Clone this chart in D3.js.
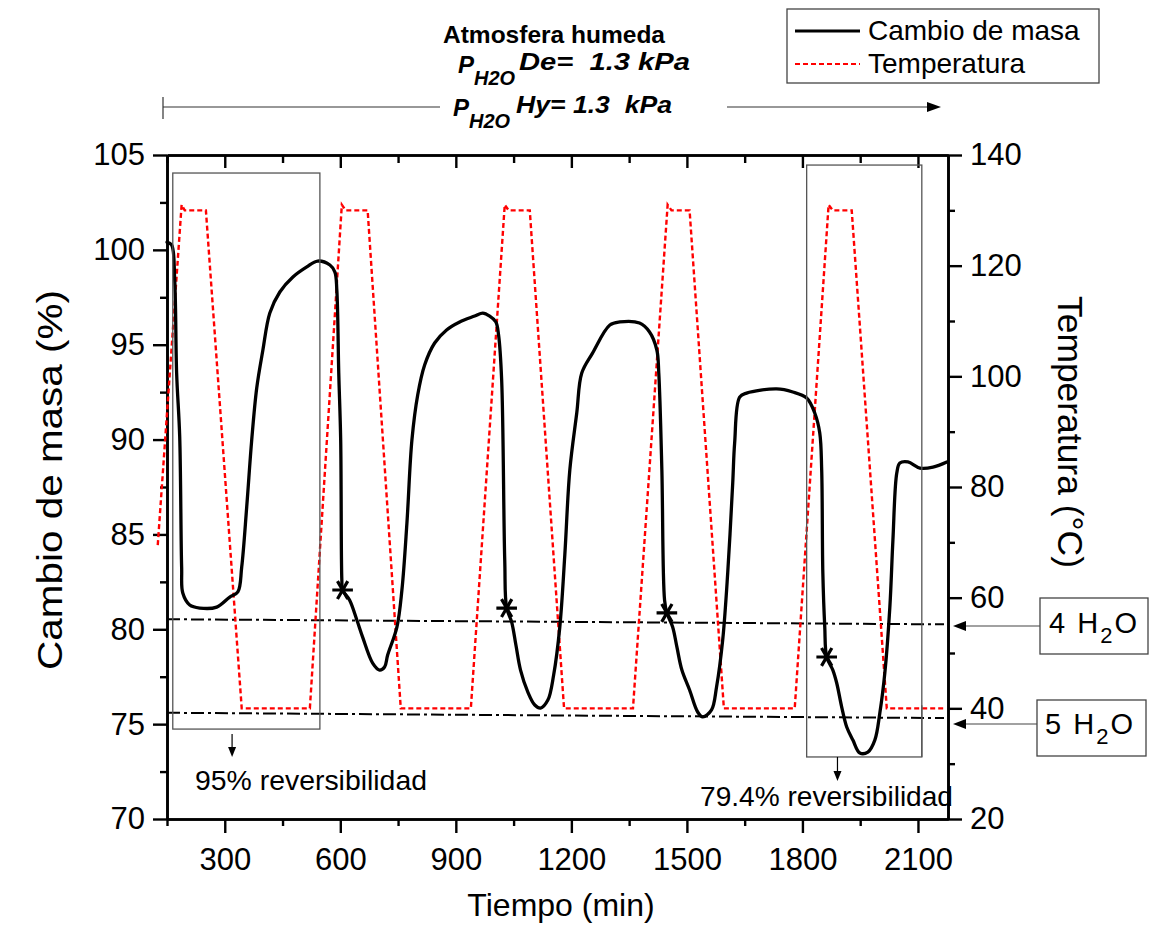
<!DOCTYPE html>
<html><head><meta charset="utf-8">
<script src="https://cdn.jsdelivr.net/npm/d3@7"></script>
<style>
body{margin:0;background:#fff}
svg{display:block}
text{font-family:"Liberation Sans",Arial,Helvetica,sans-serif;fill:#000}
</style>
</head><body>
<svg id="chart" width="1154" height="926"></svg>
<script>
// ---------------- data ----------------
const massTime = [150,162,170,175,183,188,191,209,235,279,313,334,344,357,370,383,399,417,443,477,513,541,573,586,591,596,601,604,606,624,643,658,684,702,715,723,747,760,773,786,801,819,845,876,910,949,970,988,1004,1011,1019,1027,1032,1045,1056,1068,1087,1105,1120,1139,1154,1170,1183,1196,1214,1227,1255,1300,1326,1377,1403,1422,1427,1435,1442,1448,1463,1474,1487,1507,1528,1541,1564,1577,1593,1606,1619,1624,1637,1655,1733,1775,1811,1832,1845,1850,1853,1858,1863,1879,1889,1902,1915,1931,1949,1970,1988,2001,2014,2027,2035,2045,2053,2074,2105,2139,2175];
const massValues = [100.41,100.26,98.41,93.51,90.14,83.28,81.91,81.28,81.12,81.17,81.70,81.97,83.28,86.45,89.98,92.72,94.72,96.67,97.78,98.57,99.10,99.41,99.20,98.83,97.88,93.51,89.98,82.60,82.07,81.54,80.49,79.59,78.22,77.85,78.01,78.64,80.12,82.07,85.60,89.98,92.35,93.93,95.09,95.78,96.20,96.51,96.67,96.51,96.20,95.51,93.14,83.65,81.12,80.38,79.17,77.85,76.69,76.01,75.85,76.27,77.59,80.12,83.92,88.40,91.40,93.51,94.56,96.04,96.20,96.14,95.67,94.72,93.51,88.40,81.54,80.86,80.12,79.07,77.85,76.80,75.64,75.38,75.75,76.96,79.44,82.97,87.71,89.82,92.24,92.45,92.67,92.51,92.19,91.40,90.35,88.40,82.97,80.12,78.54,77.85,77.17,75.90,74.85,74.16,73.48,73.53,74.16,75.59,77.70,81.17,84.71,88.24,88.76,88.82,88.50,88.55,88.82];

const markerTime = [606,1032,1448,1863];
const markerValues = [82.07,81.12,80.86,78.54];

const tempTime = [126,188,196,251,344,521,604,614,671,757,939,1027,1037,1092,1181,1360,1450,1460,1507,1596,1780,1868,1879,1928,2019,2170];
const tempValues = [69.5,131,130,130,40,40,131,130,130,40,40,131,130,130,40,40,131,130,130,40,40,131,130,130,40,40];

const xTicks = [300,600,900,1200,1500,1800,2100];
const xMinorTicks = [150,450,750,1050,1350,1650,1950];
const massTicks = [70,75,80,85,90,95,100,105];
const massMinorTicks = [72.5,77.5,82.5,87.5,92.5,97.5,102.5];
const tempTicks = [20,40,60,80,100,120,140];
const tempMinorTicks = [30,50,70,90,110,130];

// hydrate reference lines (time, mass) endpoints
const hydrateNames = ["4", "5"];
const hydrateStart = [80.53, 75.60];
const hydrateEnd = [80.26, 75.32];
const hydrateSpan = [150, 2178];

// reversibility boxes
const boxTimes = [[165, 547], [1811, 2110]];
const boxMass = [[104.05, 74.74], [104.47, 73.27]];
const boxLabels = ["95% reversibilidad", "79.4% reversibilidad"];

// ---------------- chart ----------------
const svg = d3.select("#chart");
const x = d3.scaleLinear().domain([150, 2178]).range([167, 948]);
const yM = d3.scaleLinear().domain([70, 105]).range([819, 155]);
const yT = d3.scaleLinear().domain([20, 140]).range([819, 155]);
const fmt = d3.format("d");

function styleAxis(g, fs) {
  g.attr("font-family", '"Liberation Sans",Arial,sans-serif').attr("font-size", fs);
  g.selectAll("path.domain").attr("stroke", "#000").attr("stroke-width", 2.6);
  g.selectAll(".tick line").attr("stroke", "#000").attr("stroke-width", 2.4);
  g.selectAll(".tick text").attr("fill", "#000");
}

// bottom
svg.append("g").attr("transform", "translate(0,819)")
  .call(d3.axisBottom(x).tickValues(xMinorTicks).tickSize(7).tickSizeOuter(0).tickFormat(""))
  .call(g => styleAxis(g, 31));
svg.append("g").attr("transform", "translate(0,819)")
  .call(d3.axisBottom(x).tickValues(xTicks).tickSize(14).tickSizeOuter(0).tickPadding(15).tickFormat(fmt))
  .call(g => styleAxis(g, 31));
// top (ticks inward)
svg.append("g").attr("transform", "translate(0,155)")
  .call(d3.axisBottom(x).tickValues(xMinorTicks).tickSize(8).tickSizeOuter(0).tickFormat(""))
  .call(g => styleAxis(g, 31));
svg.append("g").attr("transform", "translate(0,155)")
  .call(d3.axisBottom(x).tickValues(xTicks).tickSize(13).tickSizeOuter(0).tickFormat(""))
  .call(g => styleAxis(g, 31));
// left
svg.append("g").attr("transform", "translate(167,0)")
  .call(d3.axisLeft(yM).tickValues(massMinorTicks).tickSize(7).tickSizeOuter(0).tickFormat(""))
  .call(g => styleAxis(g, 31));
svg.append("g").attr("transform", "translate(167,0)")
  .call(d3.axisLeft(yM).tickValues(massTicks).tickSize(14).tickSizeOuter(0).tickPadding(8).tickFormat(fmt))
  .call(g => styleAxis(g, 31));
// right
svg.append("g").attr("transform", "translate(948,0)")
  .call(d3.axisRight(yT).tickValues(tempMinorTicks).tickSize(7).tickSizeOuter(0).tickFormat(""))
  .call(g => styleAxis(g, 31));
svg.append("g").attr("transform", "translate(948,0)")
  .call(d3.axisRight(yT).tickValues(tempTicks).tickSize(14).tickSizeOuter(0).tickPadding(8).tickFormat(fmt))
  .call(g => styleAxis(g, 31));

// axis titles
svg.append("text").attr("x", 561).attr("y", 916).attr("text-anchor", "middle")
  .attr("font-size", 32).text("Tiempo (min)");
svg.append("text").attr("transform", "translate(62,480) rotate(-90)").attr("text-anchor", "middle")
  .attr("font-size", 35).attr("textLength", 380).attr("lengthAdjust", "spacingAndGlyphs")
  .text("Cambio de masa (%)");
svg.append("text").attr("transform", "translate(1058,432) rotate(90)").attr("text-anchor", "middle")
  .attr("font-size", 35).attr("textLength", 272).attr("lengthAdjust", "spacingAndGlyphs")
  .text("Temperatura (°C)");

// hydrate dash-dot lines
hydrateNames.forEach((n, i) => {
  svg.append("line")
    .attr("x1", x(hydrateSpan[0])).attr("y1", yM(hydrateStart[i]))
    .attr("x2", x(hydrateSpan[1]) - 4).attr("y2", yM(hydrateEnd[i]))
    .attr("stroke", "#000").attr("stroke-width", 2).attr("stroke-dasharray", "13,4,3,4");
});

// temperature
const tempData = tempTime.map((t, i) => [t, tempValues[i]]);
svg.append("path").datum(tempData)
  .attr("fill", "none").attr("stroke", "#ff0000").attr("stroke-width", 2.4)
  .attr("stroke-dasharray", "5,3")
  .attr("d", d3.line().x(d => x(d[0])).y(d => yT(d[1])));

// mass
const massData = massTime.map((t, i) => [t, massValues[i]]);
svg.append("path").datum(massData)
  .attr("fill", "none").attr("stroke", "#000").attr("stroke-width", 3.3)
  .attr("stroke-linejoin", "round").attr("stroke-linecap", "round")
  .attr("d", d3.line().curve(d3.curveCatmullRom.alpha(0.5)).x(d => x(d[0])).y(d => yM(d[1])));

// star markers
const star = d3.symbol(d3.symbolAsterisk, 300);
markerTime.forEach((t, i) => {
  svg.append("path").attr("d", star())
    .attr("transform", `translate(${x(t)},${yM(markerValues[i])}) rotate(90)`)
    .attr("fill", "none").attr("stroke", "#000").attr("stroke-width", 3.2);
});

// reversibility boxes
boxTimes.forEach((bt, i) => {
  const x0 = x(bt[0]), x1 = x(bt[1]), y0 = yM(boxMass[i][0]), y1 = yM(boxMass[i][1]);
  svg.append("rect").attr("x", x0).attr("y", y0).attr("width", x1 - x0).attr("height", y1 - y0)
    .attr("fill", "none").attr("stroke", "#555").attr("stroke-width", 1.3);
});
function downArrow(cx, ya, yb) {
  svg.append("line").attr("x1", cx).attr("y1", ya).attr("x2", cx).attr("y2", yb - 8)
    .attr("stroke", "#000").attr("stroke-width", 1.2);
  svg.append("path").attr("d", `M${cx - 4},${yb - 10}L${cx + 4},${yb - 10}L${cx},${yb}Z`).attr("fill", "#000");
}
downArrow(x(319), yM(boxMass[0][1]) + 5, yM(boxMass[0][1]) + 28);
downArrow(x(1891), yM(boxMass[1][1]), yM(boxMass[1][1]) + 24);
svg.append("text").attr("x", 195).attr("y", 790).attr("font-size", 28)
  .attr("textLength", 232).attr("lengthAdjust", "spacingAndGlyphs").text(boxLabels[0]);
svg.append("text").attr("x", 700).attr("y", 806).attr("font-size", 28)
  .attr("textLength", 253).attr("lengthAdjust", "spacingAndGlyphs").text(boxLabels[1]);
svg.append("line").attr("x1", x(2110)).attr("x2", x(2110)).attr("y1", yM(76)).attr("y2", yM(73.27))
  .attr("stroke", "#555").attr("stroke-width", 1.3);

// hydrate label boxes with arrows
const hydBoxes = [{x: 1040, y: 598, w: 108, h: 56, ay: 626, tx: 1049, ty: 633},
                  {x: 1037, y: 700, w: 109, h: 56, ay: 724, tx: 1045, ty: 734}];
hydBoxes.forEach((b, i) => {
  svg.append("rect").attr("x", b.x).attr("y", b.y).attr("width", b.w).attr("height", b.h)
    .attr("fill", "#fff").attr("stroke", "#444").attr("stroke-width", 1.3);
  svg.append("line").attr("x1", b.x).attr("y1", b.ay).attr("x2", 964).attr("y2", b.ay)
    .attr("stroke", "#444").attr("stroke-width", 1.2);
  svg.append("path").attr("d", `M953,${b.ay}L966,${b.ay - 5}L966,${b.ay + 5}Z`).attr("fill", "#000");
  const t = svg.append("text").attr("x", b.tx).attr("y", b.ty).attr("font-size", 29)
    .attr("textLength", 88).attr("lengthAdjust", "spacing");
  t.append("tspan").text(hydrateNames[i] + " H");
  t.append("tspan").attr("dy", 10).attr("font-size", 22).text("2");
  t.append("tspan").attr("dy", -10).text("O");
});

// legend
svg.append("rect").attr("x", 787).attr("y", 9).attr("width", 312).attr("height", 74)
  .attr("fill", "#fff").attr("stroke", "#444").attr("stroke-width", 1.3);
svg.append("line").attr("x1", 795).attr("x2", 860).attr("y1", 31).attr("y2", 31)
  .attr("stroke", "#000").attr("stroke-width", 3.2);
svg.append("line").attr("x1", 795).attr("x2", 860).attr("y1", 64).attr("y2", 64)
  .attr("stroke", "#ff0000").attr("stroke-width", 2).attr("stroke-dasharray", "5,3");
svg.append("text").attr("x", 868).attr("y", 40).attr("font-size", 28).text("Cambio de masa");
svg.append("text").attr("x", 868).attr("y", 73).attr("font-size", 28).text("Temperatura");

// header annotations
svg.append("text").attr("x", 554).attr("y", 43).attr("text-anchor", "middle")
  .attr("font-size", 24).attr("font-weight", "bold")
  .attr("textLength", 222).attr("lengthAdjust", "spacingAndGlyphs").text("Atmosfera humeda");
function pRow(px, pBase, subBase, restX, restBase, restW, rest) {
  svg.append("text").attr("x", px).attr("y", pBase).attr("font-size", 24)
    .attr("font-weight", "bold").attr("font-style", "italic").text("P");
  svg.append("text").attr("x", px + 16).attr("y", subBase).attr("font-size", 21)
    .attr("font-weight", "bold").attr("font-style", "italic")
    .attr("textLength", 41).attr("lengthAdjust", "spacingAndGlyphs").text("H2O");
  svg.append("text").attr("x", restX).attr("y", restBase).attr("font-size", 23)
    .attr("font-weight", "bold").attr("font-style", "italic").style("white-space", "pre")
    .attr("textLength", restW).attr("lengthAdjust", "spacingAndGlyphs").text(rest);
}
pRow(458, 73, 85, 519, 70, 171, "De=  1.3 kPa");
pRow(453, 116, 128, 516, 113, 156, "Hy= 1.3  kPa");
// range arrow
svg.append("line").attr("x1", 163).attr("x2", 440).attr("y1", 107).attr("y2", 107).attr("stroke", "#333").attr("stroke-width", 1.2);
svg.append("line").attr("x1", 163).attr("x2", 163).attr("y1", 97).attr("y2", 119).attr("stroke", "#333").attr("stroke-width", 1.2);
svg.append("line").attr("x1", 727).attr("x2", 930).attr("y1", 107).attr("y2", 107).attr("stroke", "#333").attr("stroke-width", 1.2);
svg.append("path").attr("d", "M941,107L927,102L927,112Z").attr("fill", "#000");
</script>
</body></html>
